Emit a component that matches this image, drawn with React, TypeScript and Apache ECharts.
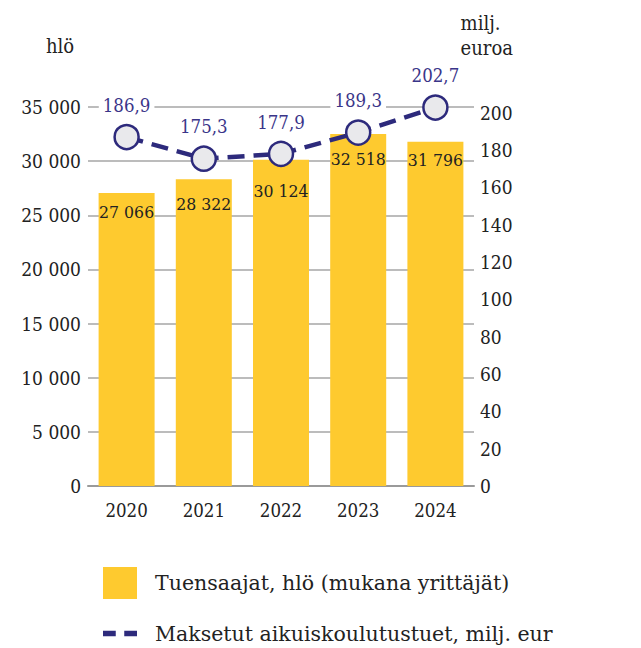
import React, { useEffect, useRef } from "react";
import * as echarts from "echarts";

const years = ["2020", "2021", "2022", "2023", "2024"];
const recipients = [27066, 28322, 30124, 32518, 31796];
const payments = [186.9, 175.3, 177.9, 189.3, 202.7];
const barLabelDistance = [10, 16, 22, 16, 9];

const barName = "Tuensaajat, hlö (mukana yrittäjät)";
const lineName = "Maksetut aikuiskoulutustuet, milj. eur";

const NUM_FONT = "'DejaVu Serif Condensed', 'DejaVu Serif', serif";
const TXT_FONT = "'DejaVu Serif', serif";
const INK = "#222222";
const NAVY = "#2D2A7C";
const YELLOW = "#FECA2F";

const fmtThousands = (v: number) =>
  String(Math.round(v)).replace(/\B(?=(\d{3})+(?!\d))/g, " ");
const fmtDecimal = (v: number) => v.toFixed(1).replace(".", ",");

export default function App() {
  const ref = useRef<HTMLDivElement>(null);
  useEffect(() => {
    if (!ref.current) return;
    const chart = echarts.init(ref.current, undefined, { renderer: "svg" });
    chart.setOption({
      animation: false,
      backgroundColor: "#ffffff",
      grid: { left: 88, top: 107, width: 386, height: 379, containLabel: false },
      xAxis: {
        type: "category",
        data: years,
        axisLine: { show: true, lineStyle: { color: "#9a9a9a", width: 2 } },
        axisTick: { show: false },
        axisLabel: { color: INK, fontFamily: NUM_FONT, fontSize: 18.5, margin: 15 },
      },
      yAxis: [
        {
          type: "value",
          min: 0,
          max: 35000,
          interval: 5000,
          axisLine: { show: false },
          axisTick: { show: false },
          axisLabel: {
            color: INK,
            fontFamily: NUM_FONT,
            fontSize: 19,
            margin: 7,
            formatter: (v: number) => fmtThousands(v),
          },
          splitLine: { show: true, lineStyle: { color: "#a6a6a6", width: 1.5 } },
        },
        {
          type: "value",
          min: 0,
          max: 203,
          interval: 20,
          axisLine: { show: false },
          axisTick: { show: false },
          axisLabel: {
            color: INK,
            fontFamily: NUM_FONT,
            fontSize: 19,
            margin: 6,
            showMaxLabel: false,
          },
          splitLine: { show: false },
        },
      ],
      legend: {
        orient: "vertical",
        left: 98,
        top: 562,
        itemWidth: 34,
        itemHeight: 32,
        itemGap: 24,
        selectedMode: false,
        textStyle: {
          color: INK,
          fontFamily: TXT_FONT,
          fontSize: 20.5,
          padding: [0, 0, 0, 13],
        },
        data: [
          { name: barName, icon: "rect", itemStyle: { color: YELLOW } },
          {
            name: lineName,
            icon: "path://M0,0H12V5H0Z M20,0H32V5H20Z",
            itemStyle: { color: NAVY, borderWidth: 0 },
          },
        ],
      },
      series: [
        {
          name: barName,
          type: "bar",
          yAxisIndex: 0,
          barWidth: 56,
          itemStyle: { color: YELLOW },
          data: recipients.map((v, i) => ({
            value: v,
            label: { distance: barLabelDistance[i] },
          })),
          label: {
            show: true,
            position: "insideTop",
            color: INK,
            fontFamily: NUM_FONT,
            fontSize: 17.5,
            formatter: (p: any) => fmtThousands(p.value),
          },
        },
        {
          name: lineName,
          type: "line",
          yAxisIndex: 1,
          data: payments,
          symbol: "circle",
          symbolSize: 24,
          z: 5,
          lineStyle: { color: NAVY, width: 4.5, type: [17, 9] },
          itemStyle: { color: "#e9e9ec", borderColor: NAVY, borderWidth: 2.5 },
          label: {
            show: true,
            position: "top",
            distance: 8,
            color: "#3A3589",
            fontFamily: NUM_FONT,
            fontSize: 18.5,
            backgroundColor: "#ffffff",
            padding: [1, 4],
            formatter: (p: any) => fmtDecimal(p.value),
          },
        },
      ],
      graphic: [
        {
          type: "text",
          left: 46,
          top: 36,
          style: { text: "hlö", fill: INK, font: `20px ${NUM_FONT}` },
        },
        {
          type: "text",
          right: 128,
          top: 10,
          style: {
            text: "milj.\neuroa",
            fill: INK,
            font: `20px ${NUM_FONT}`,
            align: "right",
            lineHeight: 25,
          },
        },
      ],
    });
    return () => chart.dispose();
  }, []);
  return (
    <div
      ref={ref}
      style={{ position: "absolute", left: 0, top: 0, width: 641, height: 648 }}
    />
  );
}
